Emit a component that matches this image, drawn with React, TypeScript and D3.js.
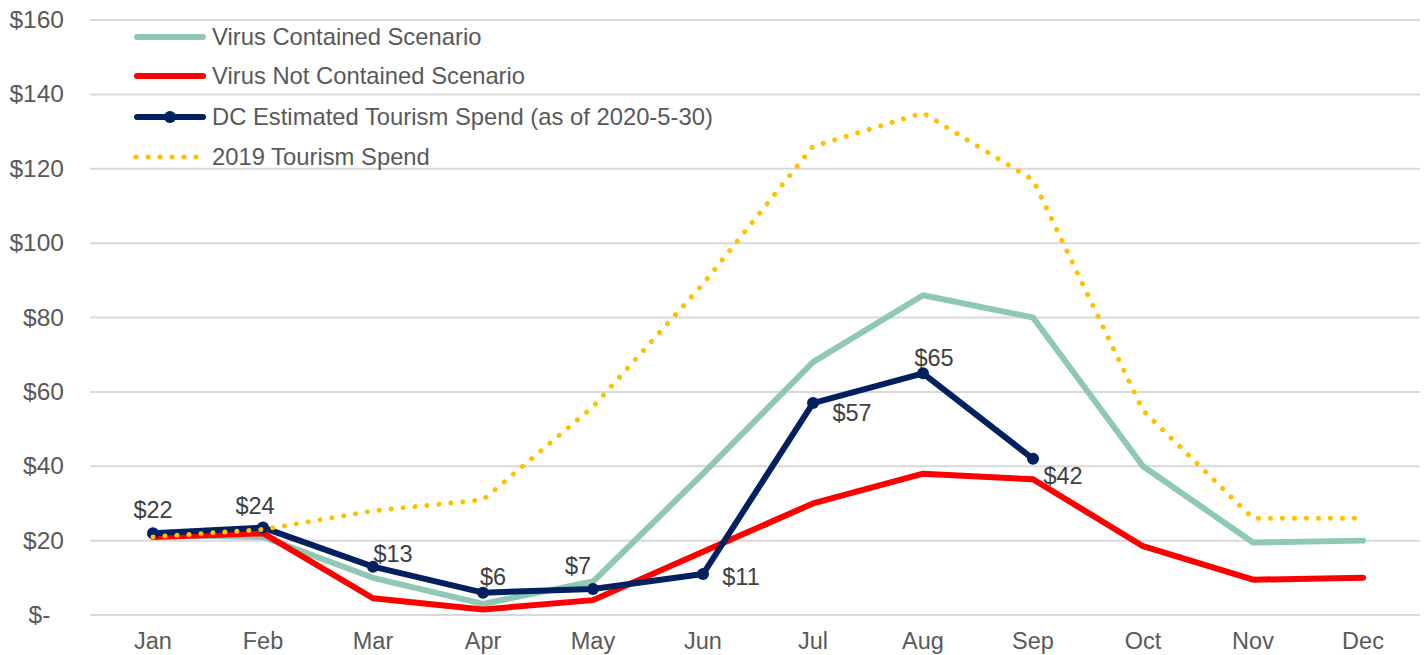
import React, { useEffect, useRef } from 'react';
import * as d3 from 'd3';

const months = ['Jan', 'Feb', 'Mar', 'Apr', 'May', 'Jun', 'Jul', 'Aug', 'Sep', 'Oct', 'Nov', 'Dec'];
const containedValues = [21.5, 21, 10, 3, 9, 38, 68, 86, 80, 40, 19.5, 20];
const notContainedValues = [21, 22, 4.5, 1.5, 4, 17, 30, 38, 36.5, 18.5, 9.5, 10];
const dcValues = [22, 23.5, 13, 6, 7, 11, 57, 65, 42];
const dcLabels = ['$22', '$24', '$13', '$6', '$7', '$11', '$57', '$65', '$42'];
const spend2019Values = [21, 23, 28, 31, 56, 89, 126, 135, 117, 55, 26, 26];
const yTicks = [0, 20, 40, 60, 80, 100, 120, 140, 160];
const legendNames = [
  'Virus Contained Scenario',
  'Virus Not Contained Scenario',
  'DC Estimated Tourism Spend (as of 2020-5-30)',
  '2019 Tourism Spend',
];

// label nudges (dx, dy) relative to each DC point
const labelOffsets = [[0, -15], [-8, -14], [20, -5], [10, -8], [-15, -15], [38, 11], [39, 18], [11, -7], [30, 25]];

const GREEN = '#8fc8b4';
const RED = '#ff0000';
const NAVY = '#002060';
const GOLD = '#ffc000';
const FONT = '"Liberation Sans", Arial, sans-serif';
const FS = 23.5;

const Chart = () => {
  const chartRef = useRef<SVGSVGElement | null>(null);

  useEffect(() => {
    const width = 1424;
    const height = 655;
    const svg = d3.select(chartRef.current).attr('width', width).attr('height', height);
    svg.selectAll('*').remove();

    const x = d3.scalePoint<string>().domain(months).range([98, 1418]).padding(0.5);
    const y = d3.scaleLinear().domain([0, 160]).range([615, 20]);

    // gridlines
    svg
      .append('g')
      .selectAll('line')
      .data(yTicks)
      .enter()
      .append('line')
      .attr('x1', 90)
      .attr('x2', 1420)
      .attr('y1', d => y(d))
      .attr('y2', d => y(d))
      .attr('stroke', '#d9d9d9')
      .attr('stroke-width', 2);

    // y labels
    svg
      .append('g')
      .selectAll('text')
      .data(yTicks)
      .enter()
      .append('text')
      .attr('x', 64)
      .attr('y', d => y(d) + 8)
      .attr('text-anchor', 'end')
      .attr('font-family', FONT)
      .attr('font-size', 24.5)
      .attr('fill', '#595959')
      .text(d => (d === 0 ? '$-\u00A0\u00A0' : `$${d}`));

    // x labels
    svg
      .append('g')
      .selectAll('text')
      .data(months)
      .enter()
      .append('text')
      .attr('x', d => x(d) as number)
      .attr('y', 649)
      .attr('text-anchor', 'middle')
      .attr('font-family', FONT)
      .attr('font-size', FS)
      .attr('fill', '#595959')
      .text(d => d);

    const line = d3
      .line<number>()
      .x((d, i) => x(months[i]) as number)
      .y(d => y(d));

    svg.append('path').datum(containedValues).attr('d', line).attr('fill', 'none')
      .attr('stroke', GREEN).attr('stroke-width', 6).attr('stroke-linecap', 'round').attr('stroke-linejoin', 'round');

    svg.append('path').datum(notContainedValues).attr('d', line).attr('fill', 'none')
      .attr('stroke', RED).attr('stroke-width', 6).attr('stroke-linecap', 'round').attr('stroke-linejoin', 'round');

    svg.append('path').datum(dcValues).attr('d', line).attr('fill', 'none')
      .attr('stroke', NAVY).attr('stroke-width', 6).attr('stroke-linejoin', 'round');

    svg
      .append('g')
      .selectAll('circle')
      .data(dcValues)
      .enter()
      .append('circle')
      .attr('cx', (d, i) => x(months[i]) as number)
      .attr('cy', d => y(d))
      .attr('r', 6)
      .attr('fill', NAVY);

    svg.append('path').datum(spend2019Values).attr('d', line).attr('fill', 'none')
      .attr('stroke', GOLD).attr('stroke-width', 5).attr('stroke-linecap', 'round')
      .attr('stroke-dasharray', '0.1 11.9');

    // data labels
    svg
      .append('g')
      .selectAll('text')
      .data(dcValues)
      .enter()
      .append('text')
      .attr('x', (d, i) => (x(months[i]) as number) + labelOffsets[i][0])
      .attr('y', (d, i) => y(d) + labelOffsets[i][1])
      .attr('text-anchor', 'middle')
      .attr('font-family', FONT)
      .attr('font-size', FS)
      .attr('fill', '#404040')
      .text((d, i) => dcLabels[i]);

    // legend
    const legendY = [37, 76, 117, 157];
    const legendColors = [GREEN, RED, NAVY, GOLD];
    const lg = svg.append('g');
    legendNames.forEach((name, i) => {
      const ly = legendY[i];
      const seg = lg.append('line').attr('x1', 137).attr('x2', 203).attr('y1', ly).attr('y2', ly)
        .attr('stroke', legendColors[i]).attr('stroke-linecap', 'round');
      if (i === 3) {
        seg.attr('x1', 136).attr('x2', 200).attr('stroke-width', 5).attr('stroke-dasharray', '0.1 11.9');
      } else {
        seg.attr('stroke-width', 6);
      }
      if (i === 2) {
        lg.append('circle').attr('cx', 170).attr('cy', ly).attr('r', 6).attr('fill', NAVY);
      }
      lg.append('text').attr('x', 212).attr('y', ly + 8).attr('font-family', FONT).attr('font-size', 23.8)
        .attr('fill', '#595959').text(name);
    });
  }, []);

  return <svg ref={chartRef} style={{ position: 'absolute', left: 0, top: 0, display: 'block' }}></svg>;
};

export default function App() {
  return <Chart />;
}
